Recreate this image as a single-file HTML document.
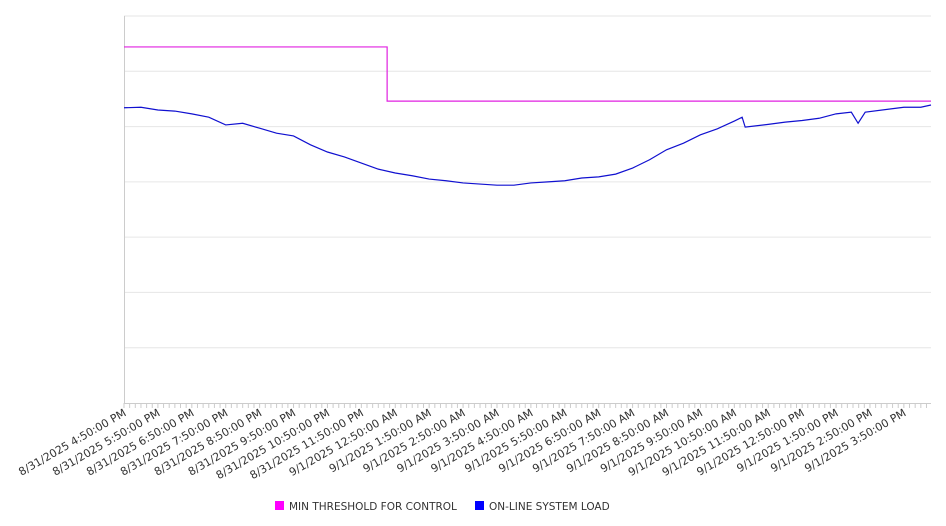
<!DOCTYPE html>
<html><head><meta charset="utf-8"><style>
body{margin:0;background:#fff;font-family:"DejaVu Sans","Liberation Sans",sans-serif}
svg{display:block}
</style></head><body>
<svg id="chart" width="946" height="526" xmlns="http://www.w3.org/2000/svg"></svg>
<script>
const loadHours=[0,0.5,1,1.5,2,2.5,3,3.5,4,4.5,5,5.5,6,6.5,7,7.5,8,8.5,9,9.5,10,10.5,11,11.5,12,12.5,13,13.5,14,14.5,15,15.5,16,16.5,17,17.5,18,18.23,18.32,19,19.5,20,20.5,21,21.45,21.65,21.86,23,23.5,23.8];
const loadValues=[534,535,530,528,523,517,503,506,497,488,483,467,454,445,434,423,416,411,405,402,398,396,394,394,398,400,402,407,409,414,425,440,458,470,485,496,510,517,499,504,508,511,515,523,526,506,526,535,535,539];
const thresholdHours=[0,7.76,7.76,23.8];
const thresholdValues=[644,644,546,546];
const tickLabels=["8/31/2025 4:50:00 PM","8/31/2025 5:50:00 PM","8/31/2025 6:50:00 PM","8/31/2025 7:50:00 PM","8/31/2025 8:50:00 PM","8/31/2025 9:50:00 PM","8/31/2025 10:50:00 PM","8/31/2025 11:50:00 PM","9/1/2025 12:50:00 AM","9/1/2025 1:50:00 AM","9/1/2025 2:50:00 AM","9/1/2025 3:50:00 AM","9/1/2025 4:50:00 AM","9/1/2025 5:50:00 AM","9/1/2025 6:50:00 AM","9/1/2025 7:50:00 AM","9/1/2025 8:50:00 AM","9/1/2025 9:50:00 AM","9/1/2025 10:50:00 AM","9/1/2025 11:50:00 AM","9/1/2025 12:50:00 PM","9/1/2025 1:50:00 PM","9/1/2025 2:50:00 PM","9/1/2025 3:50:00 PM"];
const yTicks=[0,100,200,300,400,500,600,700];

const L=124,R=931,T=16,B=403,HMAX=23.8,YMAX=700;
const xs=h=>L+(R-L)*h/HMAX;
const ys=v=>B-(B-T)*v/YMAX;
const svg=document.getElementById('chart');
const NS='http://www.w3.org/2000/svg';
function mk(t,a,p){const e=document.createElementNS(NS,t);for(const k in a)e.setAttribute(k,a[k]);(p||svg).appendChild(e);return e;}

yTicks.forEach(v=>{if(v===0)return;
const g=mk('line',{x1:L,x2:R,y1:ys(v),y2:ys(v),stroke:'#e6e6e6','stroke-width':1});

});
const ya=mk('line',{x1:L+0.5,x2:L+0.5,y1:T,y2:B,stroke:'#ccc'});


const xa=mk('line',{x1:L,x2:R,y1:B+0.5,y2:B+0.5,stroke:'#ccc'});


for(let m=0;m<=HMAX*6;m++){const x=xs(m/6);
const t=mk('line',{x1:x,x2:x,y1:B,y2:B+5,stroke:'#ccc'});

}
tickLabels.forEach((s,i)=>{const x=xs(i);
const tx=mk('text',{x:x+3,y:B+12,'text-anchor':'end','font-size':'11',fill:'#333',transform:`rotate(-30 ${x+3} ${B+12})`});
tx.textContent=s;

});

const th=mk('path',{d:thresholdHours.map((h,i)=>(i?'L':'M')+xs(h)+' '+ys(thresholdValues[i])).join(''),fill:'none',stroke:'#e020e0','stroke-width':1.2});


const ld=mk('path',{d:loadHours.map((h,i)=>(i?'L':'M')+xs(h)+' '+ys(loadValues[i])).join(''),fill:'none',stroke:'#1010d0','stroke-width':1.2});



const lg=mk('g',{});


const r1=mk('rect',{x:275,y:501,width:9,height:9,fill:'#ff00ff'},lg);


const t1=mk('text',{x:289,y:510,'font-size':'10.5',fill:'#333'},lg);t1.textContent='MIN THRESHOLD FOR CONTROL';


const r2=mk('rect',{x:475,y:501,width:9,height:9,fill:'#0000ff'},lg);


const t2=mk('text',{x:489,y:510,'font-size':'10.5',fill:'#333'},lg);t2.textContent='ON-LINE SYSTEM LOAD';


</script>
</body></html>
